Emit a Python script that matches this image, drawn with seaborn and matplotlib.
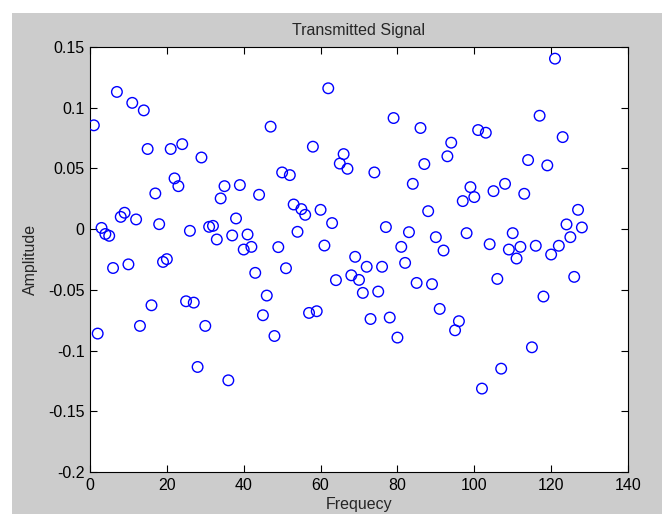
import numpy as np
import pandas as pd
import seaborn as sns
import matplotlib.pyplot as plt
from matplotlib.patches import Rectangle

# Valores (amostra 1..128)
amplitude = [
    0.0855, -0.086, 0.001, -0.004, -0.0055, -0.032, 0.113, 0.0101, 0.0135, -0.029,
    0.104, 0.008, -0.0797, 0.0978, 0.066, -0.0627, 0.0294, 0.0041, -0.027, -0.0247,
    0.066, 0.0418, 0.0354, 0.070, -0.0594, -0.0014, -0.0605, -0.1135, 0.059, -0.0797,
    0.0019, 0.0027, -0.0085, 0.0253, 0.0354, -0.1245, -0.0052, 0.0088, 0.0363, -0.0168,
    -0.0044, -0.0146, -0.036, 0.0283, -0.0709, -0.0547, 0.0844, -0.088, -0.0148, 0.0467,
    -0.0322, 0.0445, 0.0203, -0.0022, 0.0165, 0.0118, -0.069, 0.0679, -0.0676, 0.0159,
    -0.0135, 0.116, 0.005, -0.042, 0.054, 0.0618, 0.0497, -0.038, -0.0228, -0.0418,
    -0.0525, -0.031, -0.074, 0.0467, -0.0514, -0.031, 0.0017, -0.0728, 0.0915, -0.0893,
    -0.0146, -0.0278, -0.0025, 0.0373, -0.0443, 0.0833, 0.0536, 0.0148, -0.0453, -0.0066,
    -0.0657, -0.0176, 0.060, 0.0712, -0.0833, -0.0758, 0.0231, -0.0033, 0.0346, 0.0264,
    0.0816, -0.1313, 0.0794, -0.0124, 0.0313, -0.041, -0.1149, 0.0373, -0.0168, -0.0033,
    -0.0242, -0.0146, 0.0291, 0.0569, -0.0973, -0.0137, 0.0934, -0.0555, 0.0525, -0.0209,
    0.1404, -0.0137, 0.0758, 0.0039, -0.0066, -0.0393, 0.0159, 0.0014,
]
frequencia = list(range(1, len(amplitude) + 1))

x_ticks = [0, 20, 40, 60, 80, 100, 120, 140]
y_ticks = [-0.2, -0.15, -0.1, -0.05, 0, 0.05, 0.1, 0.15]
y_tick_labels = ['-0.2', '-0.15', '-0.1', '-0.05', '0', '0.05', '0.1', '0.15']

df = pd.DataFrame({'Frequecy': frequencia, 'Amplitude': amplitude})

sns.set_style('ticks')
plt.rcParams['font.family'] = ['Liberation Sans', 'DejaVu Sans']

fig = plt.figure(figsize=(6.62, 5.14), dpi=100)
fig.patch.set_facecolor('white')
# fundo cinza estilo MATLAB (com margem branca no topo e à esquerda)
fig.add_artist(Rectangle((12 / 662, 0), 1, 1 - 13 / 514, transform=fig.transFigure,
                         facecolor='#cccccc', edgecolor='none', zorder=-10))

ax = fig.add_axes([90 / 662, 1 - 472 / 514, 538 / 662, 425 / 514])
ax.set_facecolor('white')

sns.scatterplot(data=df, x='Frequecy', y='Amplitude', ax=ax, marker='o', s=58,
                facecolor='none', edgecolor='#0000ff', linewidth=1.0, zorder=3)

ax.set_xlim(0, 140)
ax.set_ylim(-0.2, 0.15)
ax.set_xticks(x_ticks)
ax.set_xticklabels([str(t) for t in x_ticks])
ax.set_yticks(y_ticks)
ax.set_yticklabels(y_tick_labels)

for s in ax.spines.values():
    s.set_visible(True)
    s.set_color('black')
    s.set_linewidth(0.8)
ax.tick_params(direction='in', top=True, right=True, length=5, width=0.8,
               labelsize=11.5, colors='black', pad=4)

ax.set_title('Transmitted Signal', fontsize=11.5, pad=9)
ax.set_xlabel('Frequecy', fontsize=11.5, labelpad=3)
ax.set_ylabel('Amplitude', fontsize=11.5, labelpad=7)

fig.savefig('out.png', dpi=100, facecolor=fig.get_facecolor())
